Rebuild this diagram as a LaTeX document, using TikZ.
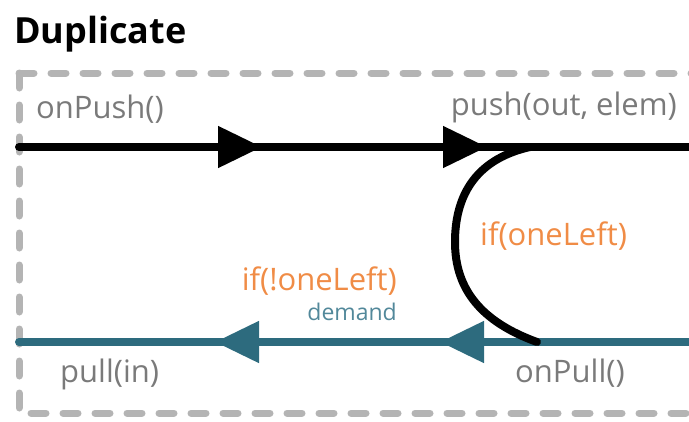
\documentclass[tikz,border=0pt]{standalone}
\usepackage{fontspec}
\setmainfont{Open Sans}
\usepackage{tikz}
\usetikzlibrary{arrows.meta,decorations.markings}
\definecolor{flowteal}{HTML}{2D6B7E}
\definecolor{demandteal}{HTML}{52889A}
\definecolor{condorange}{HTML}{F08C46}
\definecolor{labelgray}{HTML}{7A7A7A}
\definecolor{framegray}{HTML}{B4B4B4}
\tikzset{
    stageframe/.style={draw=framegray, line width=7pt, line cap=round, dash pattern=on 15pt off 17pt},
    portlabel/.style={text=labelgray, font=\fontsize{31}{36}\selectfont, inner sep=0pt},
    condlabel/.style={text=condorange, font=\fontsize{31}{36}\selectfont, inner sep=0pt},
    pushline/.style={draw=black, line width=8pt, line cap=round},
    pullline/.style={draw=flowteal, line width=8pt, line cap=round}
}

\begin{document}
\begin{tikzpicture}[x=1pt,y=-1pt]
    \useasboundingbox (0,0) rectangle (689,421);
    \coordinate (corner) at (19,73);
    \draw[stageframe] (corner) -- (700,73);
    \draw[stageframe] (corner) -- (19,413) -- (700,413);
    \node[anchor=base west, inner sep=0pt, font=\fontsize{36}{42}\selectfont\bfseries] (title) at (14,43) {Duplicate};
    \coordinate (inPush) at (19,147);
    \coordinate (outPush) at (689,147);
    \coordinate (inPull) at (19,342);
    \coordinate (outPull) at (689,342);
    \coordinate (turnTop) at (530,147);
    \coordinate (turnBot) at (537,342);
    \draw[pushline, postaction={decorate}, decoration={markings,
        mark=at position 243pt with {\arrow{Triangle[length=44pt,width=40pt]}},
        mark=at position 468pt with {\arrow{Triangle[length=44pt,width=40pt]}}}]
        (inPush) -- (outPush);
    \draw[pullline, postaction={decorate}, decoration={markings,
        mark=at position 249pt with {\arrow{Triangle[length=44pt,width=40pt]}},
        mark=at position 474pt with {\arrow{Triangle[length=44pt,width=40pt]}}}]
        (outPull) -- (inPull);
    \draw[pushline] (turnTop) .. controls (472,160) and (455,200) .. (455,242)
        .. controls (455,290) and (482,322) .. (turnBot);
    \node[portlabel, anchor=base west] (onpush) at (36,118) {onPush()};
    \node[portlabel, anchor=base east] (pushout) at (677,115) {push(out, elem)};
    \node[condlabel, anchor=base west] (oneleft) at (480,245) {if(oneLeft)};
    \node[condlabel, anchor=base east] (notoneleft) at (397,290) {if(!oneLeft)};
    \node[anchor=base east, inner sep=0pt, text=demandteal, font=\fontsize{23}{27}\selectfont] (demand) at (397,320) {demand};
    \node[portlabel, anchor=base west] (pullin) at (60,382) {pull(in)};
    \node[portlabel, anchor=base west] (onpull) at (515,382) {onPull()};
\end{tikzpicture}
\end{document}
